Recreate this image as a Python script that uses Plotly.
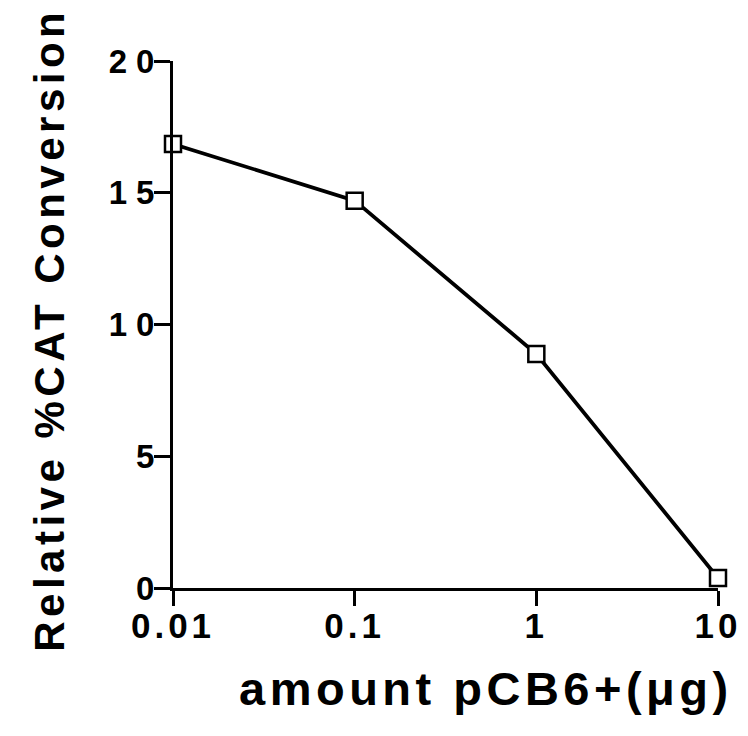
import plotly.graph_objects as go

amount_ug = [0.01, 0.1, 1, 10]
cat_conversion = [16.85, 14.7, 8.88, 0.38]
x_tickvals = [0.01, 0.1, 1, 10]
x_ticktext = ["0.01", "0.1", "1", "10"]
y_tickvals = [0, 5, 10, 15, 20]
x_title = "amount\u00a0pCB6+(\u03bcg)"
y_title = "Relative %CAT Conversion"

FONT = "Liberation Sans, Arial, Helvetica, sans-serif"

fig = go.Figure()
fig.add_trace(go.Scatter(
    x=amount_ug, y=cat_conversion, mode="lines+markers",
    line=dict(color="black", width=3.8),
    marker=dict(symbol="square", size=16, color="white",
                line=dict(color="black", width=2.5)),
    cliponaxis=False, showlegend=False,
))

fig.update_layout(
    width=748, height=736,
    margin=dict(l=173, r=30, t=61, b=148),
    paper_bgcolor="white", plot_bgcolor="white",
    font=dict(family=FONT, color="black"),
    xaxis=dict(
        type="log", range=[-2, 1],
        tickvals=x_tickvals, ticktext=x_ticktext,
        ticks="outside", ticklen=15, tickwidth=3, tickcolor="black",
        showline=True, linewidth=3, linecolor="black",
        showgrid=False, zeroline=False, ticklabelstandoff=-10,
        tickfont=dict(size=35, family=FONT, weight="bold"),
    ),
    yaxis=dict(
        range=[0, 20], tickvals=y_tickvals,
        ticks="outside", ticklen=16, tickwidth=3, tickcolor="black",
        showline=True, linewidth=3, linecolor="black",
        showgrid=False, zeroline=False, ticklabelstandoff=-16,
        tickfont=dict(size=33, family=FONT, weight="bold"),
    ),
    annotations=[
        dict(text=x_title, xref="paper", yref="paper", x=0.5745, y=-0.1898,
             xanchor="center", yanchor="middle", showarrow=False,
             font=dict(size=47, family=FONT, weight="bold", color="black")),
        dict(text=y_title, xref="paper", yref="paper", x=-0.2257, y=0.49,
             xanchor="center", yanchor="middle", showarrow=False, textangle=-90,
             font=dict(size=42, family=FONT, weight="bold", color="black")),
    ],
)

css = (".xtick text{letter-spacing:4px;}"
       ".ytick text{letter-spacing:9px;}"
       ".annotation-text{letter-spacing:4.5px;}"
       ".annotation:first-child .annotation-text{letter-spacing:5.5px;}")
post = ("var s=document.createElement('style');s.textContent='" + css +
        "';document.head.appendChild(s);")

fig.write_html("out.html", post_script=post)
